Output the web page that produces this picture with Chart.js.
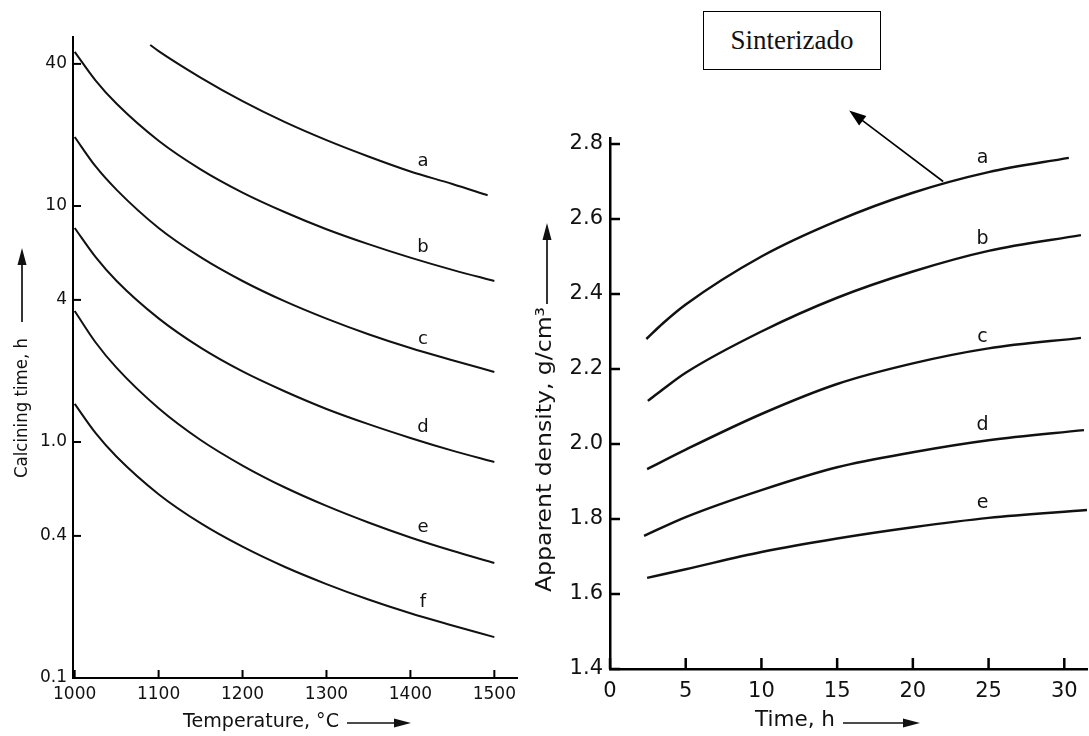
<!DOCTYPE html>
<html lang="en">
<head>
<meta charset="UTF-8">
<title>Calcining time and apparent density</title>
<script src="https://cdn.jsdelivr.net/npm/chart.js"></script>
<style>
    html, body { margin: 0; padding: 0; background: #fff; }
    body { width: 1089px; height: 736px; position: relative; overflow: hidden; }
    #calcChart { position: absolute; left: 0; top: 0; }
    #densChart { position: absolute; left: 530px; top: 0; }
    .note {
        position: absolute; left: 703px; top: 11px; width: 178px; height: 59px;
        box-sizing: border-box; border: 1.5px solid #000; background: #fff; z-index: 2;
        font-family: 'Liberation Serif', 'DejaVu Serif', serif; font-size: 27px; color: #111;
        display: flex; align-items: center; justify-content: center;
    }
</style>
</head>
<body>
    <canvas id="calcChart" width="540" height="736"></canvas>
    <canvas id="densChart" width="559" height="736"></canvas>
    <div class="note">Sinterizado</div>

<script>
// ---- left panel: calcining time (h, log) vs temperature (°C)
const tempC = [1000, 1025, 1050, 1100, 1150, 1200, 1250, 1300, 1350, 1400, 1450, 1500];
const tempA = [1090, 1100, 1150, 1200, 1250, 1300, 1350, 1400, 1450, 1492];
const timeA = [48.1, 45.3, 35.0, 27.8, 22.7, 19.0, 16.2, 14.0, 12.4, 11.1];
const timeB = [45.0, 34.0, 27.1, 18.9, 14.3, 11.4, 9.43, 7.97, 6.89, 6.04, 5.36, 4.81];
const timeC = [19.6, 14.7, 11.7, 8.07, 6.07, 4.81, 3.95, 3.33, 2.86, 2.50, 2.22, 1.98];
const timeD = [8.07, 6.07, 4.81, 3.34, 2.51, 1.99, 1.64, 1.38, 1.19, 1.04, 0.919, 0.822];
const timeE = [3.59, 2.64, 2.06, 1.39, 1.02, 0.795, 0.643, 0.536, 0.456, 0.394, 0.346, 0.307];
const timeF = [1.45, 1.09, 0.866, 0.601, 0.453, 0.360, 0.296, 0.250, 0.215, 0.188, 0.167, 0.149];

const tempTicks = [1000, 1100, 1200, 1300, 1400, 1500];
const timeTicks = [0.1, 0.4, 1, 4, 10, 40];
const timeTickLabels = ['0.1', '0.4', '1.0', '4', '10', '40'];

const calcNames = ['a', 'b', 'c', 'd', 'e', 'f'];
const calcNameT = [1415, 1415, 1415, 1415, 1415, 1415];
const calcNameV = [15.4, 6.7, 2.73, 1.15, 0.436, 0.21];

// ---- right panel: apparent density (g/cm3) vs time (h)
const hoursA = [2.4, 3.5, 5, 10, 15, 20, 25, 30.3];
const densA = [2.28, 2.322, 2.372, 2.50, 2.595, 2.67, 2.725, 2.763];
const hoursB = [2.5, 3.5, 5, 10, 15, 20, 25, 31.1];
const densB = [2.115, 2.146, 2.19, 2.30, 2.39, 2.46, 2.515, 2.557];
const hoursC = [2.45, 5, 10, 15, 20, 25, 31.1];
const densC = [1.933, 1.985, 2.08, 2.16, 2.215, 2.255, 2.283];
const hoursD = [2.25, 5, 10, 15, 20, 25, 31.3];
const densD = [1.755, 1.805, 1.877, 1.938, 1.978, 2.01, 2.037];
const hoursE = [2.45, 5, 10, 15, 20, 25, 31.5];
const densE = [1.643, 1.666, 1.712, 1.748, 1.778, 1.803, 1.824];

const hourTicks = [0, 5, 10, 15, 20, 25, 30];
const densTicks = [1.4, 1.6, 1.8, 2.0, 2.2, 2.4, 2.6, 2.8];

const densNames = ['a', 'b', 'c', 'd', 'e'];
const densNameT = [24.6, 24.6, 24.6, 24.6, 24.6];
const densNameV = [2.763, 2.547, 2.285, 2.051, 1.843];

const SANS = "'DejaVu Sans', 'Liberation Sans', sans-serif";

function pts(xs, ys) {
    return xs.map((x, i) => ({ x: x, y: ys[i] }));
}

function drawArrow(ctx, x1, y1, x2, y2, head, half, lw) {
    const a = Math.atan2(y2 - y1, x2 - x1);
    const c = Math.cos(a), s = Math.sin(a);
    ctx.lineWidth = lw;
    ctx.beginPath();
    ctx.moveTo(x1, y1);
    ctx.lineTo(x2 - c * head * 0.7, y2 - s * head * 0.7);
    ctx.stroke();
    ctx.beginPath();
    ctx.moveTo(x2, y2);
    ctx.lineTo(x2 - head * c + half * s, y2 - head * s - half * c);
    ctx.lineTo(x2 - head * c - half * s, y2 - head * s + half * c);
    ctx.closePath();
    ctx.fill();
}

// small tick marks pointing into the plot
const innerTicks = {
    id: 'innerTicks',
    afterDraw(chart, args, opts) {
        const { ctx, chartArea } = chart;
        const sx = chart.scales.x, sy = chart.scales.y;
        ctx.save();
        ctx.strokeStyle = '#000';
        ctx.lineWidth = opts.width;
        sx.ticks.forEach(t => {
            const px = sx.getPixelForValue(t.value);
            ctx.beginPath();
            ctx.moveTo(px, chartArea.bottom);
            ctx.lineTo(px, chartArea.bottom - opts.lenX);
            ctx.stroke();
        });
        sy.ticks.forEach(t => {
            const py = sy.getPixelForValue(t.value);
            ctx.beginPath();
            ctx.moveTo(chartArea.left, py);
            ctx.lineTo(chartArea.left + opts.lenY, py);
            ctx.stroke();
        });
        ctx.restore();
    }
};

// letters a..f next to the curves
const curveTags = {
    id: 'curveTags',
    afterDatasetsDraw(chart, args, opts) {
        const ctx = chart.ctx;
        ctx.save();
        ctx.fillStyle = '#111';
        ctx.font = opts.size + 'px ' + SANS;
        ctx.textAlign = 'center';
        ctx.textBaseline = 'middle';
        opts.names.forEach((n, i) => {
            ctx.fillText(n, chart.scales.x.getPixelForValue(opts.xs[i]), chart.scales.y.getPixelForValue(opts.ys[i]));
        });
        ctx.restore();
    }
};

// axis titles (narrowed to the original width) with their long arrows
const axisTitles = {
    id: 'axisTitles',
    afterDraw(chart, args, opts) {
        const ctx = chart.ctx;
        ctx.save();
        ctx.fillStyle = '#111';
        ctx.strokeStyle = '#111';
        ctx.textBaseline = 'middle';
        ctx.textAlign = 'left';
        opts.items.forEach(it => {
            ctx.font = it.size + 'px ' + SANS;
            const k = it.len / ctx.measureText(it.text).width;
            ctx.save();
            ctx.translate(it.x, it.y);
            if (it.vertical) ctx.rotate(-Math.PI / 2);
            ctx.scale(k, 1);
            ctx.fillText(it.text, 0, 0);
            ctx.restore();
            const a = it.arrow;
            drawArrow(ctx, a[0], a[1], a[2], a[3], 17, 4.5, 1.7);
        });
        if (opts.pointer) {
            const p = opts.pointer;
            const tx = chart.scales.x.getPixelForValue(p.t);
            const ty = chart.scales.y.getPixelForValue(p.v);
            ctx.strokeStyle = '#000';
            ctx.fillStyle = '#000';
            drawArrow(ctx, tx, ty, tx + p.dx, ty + p.dy, 17, 6, 1.6);
        }
        ctx.restore();
    }
};

function lineSet(data, width) {
    return {
        data: data,
        borderColor: '#111',
        borderWidth: width,
        pointRadius: 0,
        fill: false,
        cubicInterpolationMode: 'monotone',
        clip: false
    };
}

// ---- left chart
new Chart(document.getElementById('calcChart'), {
    type: 'line',
    data: {
        datasets: [
            lineSet(pts(tempA, timeA), 2),
            lineSet(pts(tempC, timeB), 2),
            lineSet(pts(tempC, timeC), 2),
            lineSet(pts(tempC, timeD), 2),
            lineSet(pts(tempC, timeE), 2),
            lineSet(pts(tempC, timeF), 2)
        ]
    },
    options: {
        responsive: false,
        animation: false,
        events: [],
        layout: { padding: { top: 37, right: 23, left: 0, bottom: 0 } },
        scales: {
            x: {
                type: 'linear', min: 998, max: 1527,
                afterFit: s => { s.height = 58; },
                afterBuildTicks: s => { s.ticks = tempTicks.map(v => ({ value: v })); },
                grid: { drawOnChartArea: false, drawTicks: false },
                border: { display: true, color: '#000', width: 2 },
                ticks: {
                    autoSkip: false, maxRotation: 0, padding: 6, color: '#111',
                    font: { family: SANS, size: 17 },
                    callback: v => String(v)
                }
            },
            y: {
                type: 'logarithmic', min: 0.1, max: 52,
                afterFit: s => { s.width = 73; },
                afterBuildTicks: s => { s.ticks = timeTicks.map(v => ({ value: v })); },
                grid: { drawOnChartArea: false, drawTicks: false },
                border: { display: true, color: '#000', width: 2 },
                ticks: {
                    autoSkip: false, padding: 6, color: '#111', font: { family: SANS, size: 17 },
                    callback: (v, i) => timeTickLabels[i]
                }
            }
        },
        plugins: {
            legend: { display: false },
            tooltip: { enabled: false },
            innerTicks: { lenX: 8, lenY: 8, width: 2 },
            curveTags: { names: calcNames, xs: calcNameT, ys: calcNameV, size: 18 },
            axisTitles: {
                items: [
                    { text: 'Calcining time, h', size: 18, x: 22, y: 478, len: 140, vertical: true, arrow: [22, 322, 22, 248] },
                    { text: 'Temperature, °C', size: 19, x: 183, y: 722, len: 156, vertical: false, arrow: [347, 723, 411, 723] }
                ]
            }
        }
    },
    plugins: [innerTicks, curveTags, axisTitles]
});

// ---- right chart
new Chart(document.getElementById('densChart'), {
    type: 'line',
    data: {
        datasets: [
            lineSet(pts(hoursA, densA), 2.5),
            lineSet(pts(hoursB, densB), 2.5),
            lineSet(pts(hoursC, densC), 2.5),
            lineSet(pts(hoursD, densD), 2.5),
            lineSet(pts(hoursE, densE), 2.5)
        ]
    },
    options: {
        responsive: false,
        animation: false,
        events: [],
        layout: { padding: { top: 138, right: 2, left: 0, bottom: 0 } },
        scales: {
            x: {
                type: 'linear', min: 0, max: 31.5,
                afterFit: s => { s.height = 67; },
                afterBuildTicks: s => { s.ticks = hourTicks.map(v => ({ value: v })); },
                grid: { drawOnChartArea: false, drawTicks: false },
                border: { display: true, color: '#000', width: 2.5 },
                ticks: {
                    autoSkip: false, maxRotation: 0, padding: 10, color: '#111',
                    font: { family: SANS, size: 21 },
                    callback: v => String(v)
                }
            },
            y: {
                type: 'linear', min: 1.4, max: 2.816,
                afterFit: s => { s.width = 80; },
                afterBuildTicks: s => { s.ticks = densTicks.map(v => ({ value: v })); },
                grid: { drawOnChartArea: false, drawTicks: false },
                border: { display: true, color: '#000', width: 2.5 },
                ticks: {
                    autoSkip: false, padding: 7, color: '#111', font: { family: SANS, size: 21 },
                    callback: v => Number(v).toFixed(1)
                }
            }
        },
        plugins: {
            legend: { display: false },
            tooltip: { enabled: false },
            innerTicks: { lenX: 11, lenY: 10, width: 2.5 },
            curveTags: { names: densNames, xs: densNameT, ys: densNameV, size: 19 },
            axisTitles: {
                items: [
                    { text: 'Apparent density, g/cm³', size: 22, x: 15, y: 592, len: 285, vertical: true, arrow: [17, 304, 17, 223] },
                    { text: 'Time, h', size: 22, x: 225, y: 720, len: 80, vertical: false, arrow: [313, 723, 390, 723] }
                ],
                pointer: { t: 22, v: 2.70, dx: -94, dy: -71 }
            }
        }
    },
    plugins: [innerTicks, curveTags, axisTitles]
});
</script>
</body>
</html>
